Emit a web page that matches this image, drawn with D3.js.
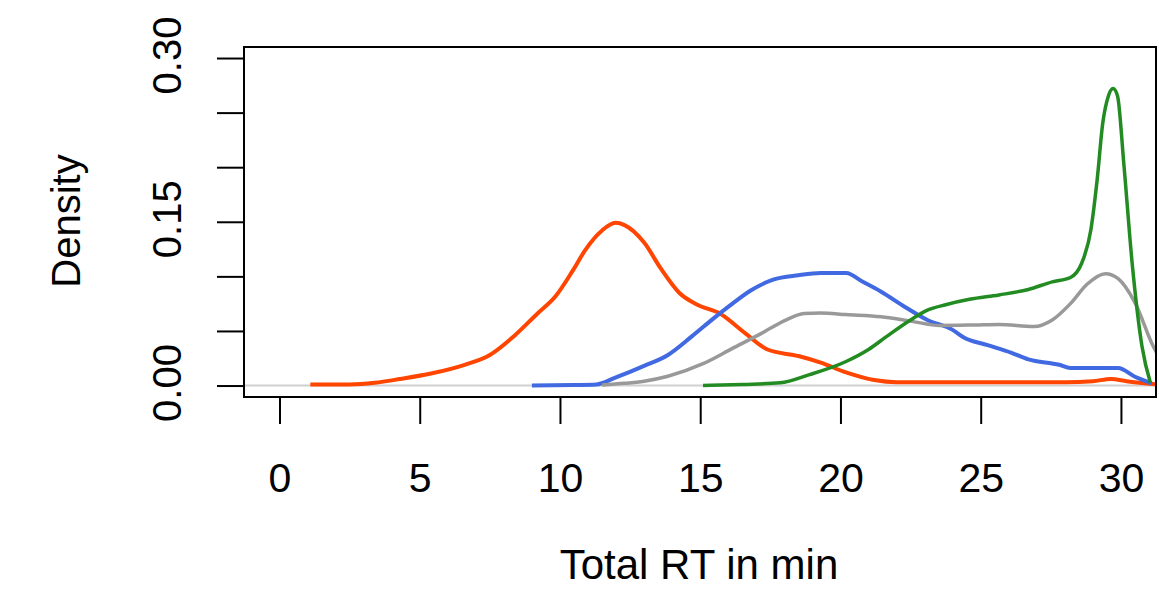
<!DOCTYPE html>
<html>
<head>
<meta charset="utf-8">
<script src="https://d3js.org/d3.v7.min.js"></script>
<style>
    body { margin: 0; background: white; }
    text { font-family: "Liberation Sans", Arial, sans-serif; fill: black; }
</style>
</head>
<body>
<svg id="chart" width="1159" height="589"></svg>
<script>

// data: [Total RT in min, density]
const redCurve = [[1.1,0.001],[2.5,0.001],[3.4,0.0025],[4.3,0.006],[5.4,0.011],[6.6,0.019],[7.5,0.028],[8.35,0.045],
    [9.2,0.066],[9.85,0.082],[10.45,0.105],[10.9,0.124],[11.5,0.142],[11.98,0.149],[12.3,0.147],[13.0,0.131],
    [13.6,0.107],[14.25,0.085],[14.9,0.074],[15.7,0.066],[16.6,0.048],[17.4,0.033],[18.5,0.027],[19.3,0.021],
    [20.2,0.012],[21.2,0.005],[22,0.003],[24,0.003],[26,0.003],[28,0.003],[29.0,0.004],[29.65,0.006],[30.2,0.004],[31.3,0.001]];

const blueCurve = [[9.0,0],[10.5,0.0005],[11.3,0.001],[11.95,0.007],[13.0,0.018],[13.85,0.028],[14.7,0.045],[15.5,0.062],
    [16.15,0.075],[16.8,0.087],[17.6,0.097],[18.5,0.101],[19.3,0.103],[20.2,0.103],[20.8,0.095],[21.45,0.086],
    [22.3,0.072],[23.1,0.060],[24.0,0.051],[24.4,0.044],[25.25,0.037],[26.1,0.030],[26.7,0.024],[27.8,0.019],
    [28.2,0.016],[29.9,0.016],[30.5,0.008],[31.1,0.002]];

const grayCurve = [[11.5,0.0005],[12.3,0.002],[13.0,0.004],[13.85,0.0085],[15.1,0.02],[16.15,0.034],[17.2,0.048],
    [18.05,0.060],[18.7,0.066],[19.3,0.0665],[20.2,0.065],[21.45,0.063],[22.5,0.059],[23.55,0.055],[24.8,0.0555],
    [25.65,0.056],[26.9,0.054],[27.55,0.060],[28.2,0.075],[28.8,0.093],[29.45,0.1025],[29.9,0.098],[30.5,0.076],
    [31.15,0.036],[31.5,0.02]];

const greenCurve = [[15.1,0],[16.5,0.001],[17.85,0.0025],[18.9,0.010],[20.2,0.022],[21.0,0.033],[21.65,0.045],[22.5,0.060],
    [23.1,0.069],[23.75,0.074],[24.6,0.079],[25.65,0.083],[26.7,0.088],[27.55,0.095],[28.2,0.099],[28.6,0.112],
    [28.93,0.143],[29.15,0.188],[29.35,0.240],[29.55,0.265],[29.72,0.272],[29.88,0.265],[30.1,0.204],[30.4,0.112],
    [30.75,0.036],[31.05,0.0025]];

const xTicks = [0, 5, 10, 15, 20, 25, 30];
const yTicks = [0, 0.05, 0.10, 0.15, 0.20, 0.25, 0.30];
const yLabelled = [0, 0.15, 0.30];

const series = [
    { values: redCurve,   color: "#ff4500", width: 4 },
    { values: blueCurve,  color: "#4169e1", width: 4 },
    { values: grayCurve,  color: "#999999", width: 3.5 },
    { values: greenCurve, color: "#228b22", width: 3.5 }
];

// plot box
const svg = d3.select("#chart");
const box = { left: 244, right: 1156, top: 47, bottom: 397 };

const x = d3.scaleLinear().domain([-1.265, 31.25]).range([box.left, box.right]);
const y = d3.scaleLinear().domain([-0.0105, 0.3101]).range([box.bottom, box.top]);

svg.append("clipPath").attr("id", "plotclip")
   .append("rect")
   .attr("x", box.left).attr("y", box.top)
   .attr("width", box.right - box.left).attr("height", box.bottom - box.top);

const plot = svg.append("g").attr("clip-path", "url(#plotclip)");

// zero line
plot.append("line")
    .attr("x1", box.left).attr("x2", box.right)
    .attr("y1", y(0)).attr("y2", y(0))
    .style("stroke", "#d0d0d0")
    .style("stroke-width", 2);

const line = d3.line()
    .x(d => x(d[0]))
    .y(d => y(d[1]))
    .curve(d3.curveMonotoneX);

plot.selectAll("path.curve").data(series)
    .join("path")
    .attr("class", "curve")
    .attr("d", d => line(d.values))
    .style("fill", "none")
    .style("stroke", d => d.color)
    .style("stroke-width", d => d.width)
    .style("stroke-linejoin", "round");

// box
svg.append("rect")
   .attr("x", box.left).attr("y", box.top)
   .attr("width", box.right - box.left).attr("height", box.bottom - box.top)
   .style("fill", "none").style("stroke", "black").style("stroke-width", 2);

// x axis
const xAxis = d3.axisBottom(x).tickValues(xTicks).tickSize(27).tickSizeOuter(0);
const gx = svg.append("g").attr("transform", "translate(0," + box.bottom + ")").call(xAxis);
gx.select(".domain").remove();
gx.selectAll(".tick line").style("stroke", "black").style("stroke-width", 2);
gx.selectAll(".tick text").style("font-size", "41px").attr("dy", 0).attr("y", 95);

// y axis
const yAxis = d3.axisLeft(y).tickValues(yTicks).tickSize(27).tickSizeOuter(0)
    .tickFormat(d => yLabelled.some(v => Math.abs(v - d) < 1e-9) ? d3.format(".2f")(d) : "");
const gy = svg.append("g").attr("transform", "translate(" + box.left + ",0)").call(yAxis);
gy.select(".domain").remove();
gy.selectAll(".tick line").style("stroke", "black").style("stroke-width", 2);
gy.selectAll(".tick text")
  .style("font-size", "40px")
  .attr("x", null).attr("dy", null)
  .attr("text-anchor", "middle")
  .attr("transform", "translate(-63,-3) rotate(-90)");

// axis titles
svg.append("text")
   .attr("x", 699)
   .attr("y", 579)
   .attr("text-anchor", "middle")
   .style("font-size", "42px")
   .text("Total RT in min");

svg.append("text")
   .attr("transform", "translate(80,221) rotate(-90)")
   .attr("text-anchor", "middle")
   .style("font-size", "40px")
   .text("Density");

</script>
</body>
</html>
